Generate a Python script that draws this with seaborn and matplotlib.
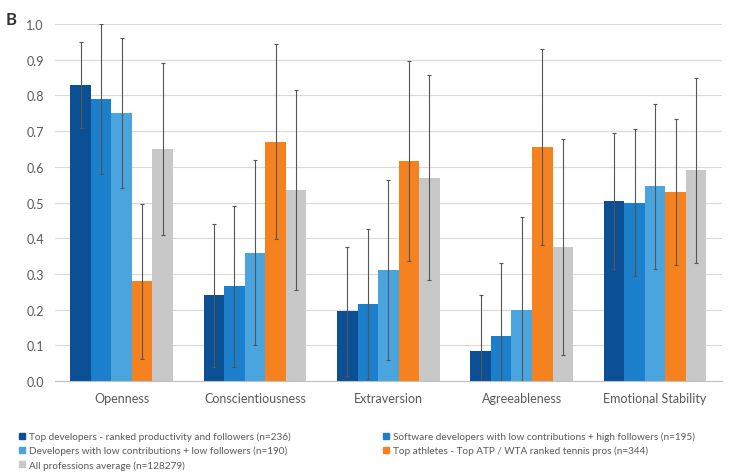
import numpy as np
import pandas as pd
import seaborn as sns
import matplotlib.pyplot as plt
from matplotlib.patches import Patch

# traits and groups
traits = ["Openness", "Conscientiousness", "Extraversion", "Agreeableness", "Emotional Stability"]
groups = [
    "Top developers - ranked productivity and followers (n=236)",
    "Software developers with low contributions + high followers (n=195)",
    "Developers with low contributions + low followers (n=190)",
    "Top athletes - Top ATP / WTA ranked tennis pros (n=344)",
    "All professions average (n=128279)",
]
colors = ["#0b4f94", "#1b7fcc", "#4aa5df", "#f5821f", "#c8c8c8"]

# mean scores per group (rows follow groups, columns follow traits)
top_dev = [0.83, 0.24, 0.195, 0.085, 0.505]
soft_dev = [0.79, 0.265, 0.215, 0.125, 0.50]
low_dev = [0.75, 0.36, 0.31, 0.20, 0.545]
athletes = [0.28, 0.67, 0.615, 0.655, 0.53]
all_prof = [0.65, 0.535, 0.57, 0.375, 0.59]

# standard deviations
top_dev_sd = [0.12, 0.20, 0.18, 0.155, 0.19]
soft_dev_sd = [0.21, 0.225, 0.21, 0.205, 0.205]
low_dev_sd = [0.21, 0.26, 0.252, 0.26, 0.23]
athletes_sd = [0.217, 0.273, 0.28, 0.275, 0.204]
all_prof_sd = [0.24, 0.28, 0.286, 0.303, 0.26]

means = [top_dev, soft_dev, low_dev, athletes, all_prof]
sds = [top_dev_sd, soft_dev_sd, low_dev_sd, athletes_sd, all_prof_sd]

rows = []
for g, m, s in zip(groups, means, sds):
    for t, v, e in zip(traits, m, s):
        rows.append({"trait": t, "group": g, "score": v, "sd": e})
df = pd.DataFrame(rows)

sns.set_style("white")
plt.rcParams["font.family"] = ["Lato", "DejaVu Sans"]
text_col = "#595959"

fig = plt.figure(figsize=(7.5, 4.77), dpi=100)
ax = fig.add_axes([0.0733, 0.199, 0.889, 0.7486])

sns.barplot(data=df, x="trait", y="score", hue="group", order=traits,
            hue_order=groups, palette=colors, width=0.77, gap=0,
            errorbar=None, saturation=1, legend=False, linewidth=0, ax=ax)

# error bars on the bar centres
for gi, g in enumerate(groups):
    cont = ax.containers[gi]
    xs = [p.get_x() + p.get_width() / 2 for p in cont.patches]
    sub = df[df.group == g].set_index("trait").loc[traits]
    ax.errorbar(xs, sub["score"], yerr=sub["sd"], fmt="none",
                ecolor="#555555", elinewidth=0.8, capsize=1.5, capthick=0.8,
                zorder=5)

ax.set_ylim(0, 1.0)
ax.set_xlim(-0.5, 4.5)
ax.set_yticks(np.arange(0, 1.01, 0.1))
ax.set_yticklabels([f"{v:.1f}" for v in np.arange(0, 1.01, 0.1)])
ax.yaxis.grid(True, color="#d9d9d9", lw=0.8)
ax.set_axisbelow(True)
ax.set_xlabel("")
ax.set_ylabel("")
for s in ["left", "right", "top"]:
    ax.spines[s].set_visible(False)
ax.spines["bottom"].set_color("#bfbfbf")
ax.set_xticks(np.arange(-0.5, 4.6, 1.0), minor=True)
ax.tick_params(axis="x", which="minor", length=4, color="#bfbfbf")
ax.tick_params(axis="x", which="major", length=0, pad=8, labelsize=9, labelcolor=text_col)
ax.tick_params(axis="y", length=0, pad=8, labelsize=9, labelcolor=text_col)

# legend, row-wise order in two columns
handles = [Patch(color=c, label=g) for c, g in zip(colors, groups)]
order = [0, 2, 4, 1, 3]
fig.legend([handles[i] for i in order], [groups[i] for i in order],
           loc="upper left", bbox_to_anchor=(0.018, 0.103), ncol=2,
           frameon=False, fontsize=7.2, labelcolor=text_col,
           handlelength=0.65, handleheight=0.65, handletextpad=0.4,
           columnspacing=9.2, labelspacing=0.45, borderpad=0)

fig.text(0.008, 0.975, "B", fontsize=12, fontweight="bold", color="#333333",
         va="top", ha="left")

fig.savefig("out.png", dpi=100)
